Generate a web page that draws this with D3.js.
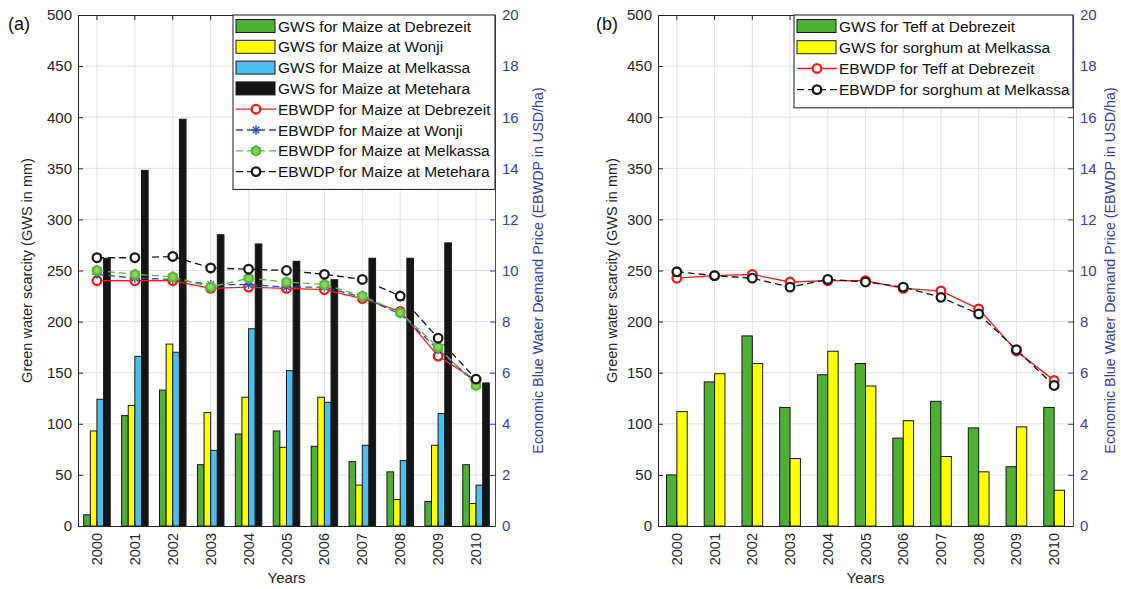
<!DOCTYPE html>
<html>
<head>
<meta charset="utf-8">
<script src="https://cdn.jsdelivr.net/npm/d3@7"></script>
<style>
  html, body { margin: 0; padding: 0; background: #fff; }
  svg { display: block; font-family: "Liberation Sans", Arial, sans-serif; }
</style>
</head>
<body>
<svg id="chart" width="1121" height="589"></svg>
<script>
// ---------- DATA ----------
const years = ["2000","2001","2002","2003","2004","2005","2006","2007","2008","2009","2010"];
const gwsTicks = [0,50,100,150,200,250,300,350,400,450,500];
const ebwdpTicks = [0,2,4,6,8,10,12,14,16,18,20];

// Panel (a) – Maize
const gwsMaizeDebrezeit = [11, 108, 133, 60, 90, 93, 78, 63, 53, 24, 60];
const gwsMaizeWonji     = [93, 118, 178, 111, 126, 77, 126, 40, 26, 79, 22];
const gwsMaizeMelkassa  = [124, 166, 170, 74, 193, 152, 121, 79, 64, 110, 40];
const gwsMaizeMetehara  = [262, 348, 398, 285, 276, 259, 241, 262, 262, 277, 140];
const ebwdpMaizeDebrezeit = [9.6, 9.6, 9.6, 9.3, 9.35, 9.3, 9.25, 8.9, 8.4, 6.65, 5.7];
const ebwdpMaizeWonji     = [9.85, 9.7, 9.65, 9.45, 9.45, 9.35, 9.35, 8.95, 8.3, 6.9, 5.6];
const ebwdpMaizeMelkassa  = [10.0, 9.85, 9.75, 9.35, 9.7, 9.55, 9.45, 9.0, 8.35, 7.0, 5.5];
const ebwdpMaizeMetehara  = [10.5, 10.5, 10.55, 10.1, 10.05, 10.0, 9.85, 9.65, 9.0, 7.35, 5.75];

// Panel (b) – Teff & sorghum
const gwsTeffDebrezeit    = [50, 141, 186, 116, 148, 159, 86, 122, 96, 58, 116];
const gwsSorghumMelkassa  = [112, 149, 159, 66, 171, 137, 103, 68, 53, 97, 35];
const ebwdpTeffDebrezeit   = [9.7, 9.8, 9.85, 9.55, 9.6, 9.6, 9.3, 9.2, 8.5, 6.85, 5.7];
const ebwdpSorghumMelkassa = [9.95, 9.8, 9.7, 9.35, 9.65, 9.55, 9.35, 8.95, 8.3, 6.9, 5.5];

// ---------- STYLES ----------
const C = {
  green: "#4DB032", yellow: "#FFFF00", cyan: "#4DBEEE", black: "#141414",
  red: "#FF1A1A", blue: "#2E48B0", lgreen: "#55BB38", dark: "#262626",
  axisBlue: "#3344A6", grid: "#E3E3E3"
};

const svg = d3.select("#chart");

function marker(g, type, color, x, y) {
  if (type === "circle") {
    g.append("circle").attr("cx", x).attr("cy", y).attr("r", 4.3)
      .attr("fill", "#fff").attr("stroke", color).attr("stroke-width", 2.3);
  } else if (type === "hex") {
    const pts = d3.range(6).map(i => {
      const a = Math.PI / 3 * i + Math.PI / 6;
      return [x + 4.6 * Math.cos(a), y + 4.6 * Math.sin(a)];
    });
    g.append("path").attr("d", "M" + pts.join("L") + "Z")
      .attr("fill", "#8FD060").attr("stroke", color).attr("stroke-width", 2.2);
  } else if (type === "star") {
    for (let i = 0; i < 4; i++) {
      const a = Math.PI / 4 * i;
      g.append("line")
        .attr("x1", x - 4.5 * Math.cos(a)).attr("y1", y - 4.5 * Math.sin(a))
        .attr("x2", x + 4.5 * Math.cos(a)).attr("y2", y + 4.5 * Math.sin(a))
        .attr("stroke", color).attr("stroke-width", 1.4);
    }
  }
}

function drawPanel(p) {
  const g = svg.append("g");
  const x = d3.scaleBand().domain(years).range([p.x0, p.x1]).paddingInner(0).paddingOuter(0);
  const bw = x.bandwidth();
  const xs = d3.scaleBand().domain(p.bars.map(b => b.name))
    .range([bw * (1 - p.groupFrac) / 2, bw * (1 + p.groupFrac) / 2]).padding(0);
  const y = d3.scaleLinear().domain([0, 500]).range([p.y1, p.y0]);
  const y2 = d3.scaleLinear().domain([0, 20]).range([p.y1, p.y0]);
  const cx = d => x(d) + bw / 2;

  // grid
  g.append("g").selectAll("line.vg").data(years).join("line")
    .attr("x1", d => cx(d)).attr("x2", d => cx(d)).attr("y1", p.y0).attr("y2", p.y1)
    .attr("stroke", C.grid).attr("stroke-width", 1);
  g.append("g").selectAll("line.hg").data(gwsTicks.slice(1, -1)).join("line")
    .attr("x1", p.x0).attr("x2", p.x1).attr("y1", d => y(d)).attr("y2", d => y(d))
    .attr("stroke", C.grid).attr("stroke-width", 1);

  // bars
  p.bars.forEach(b => {
    g.append("g").selectAll("rect").data(b.values).join("rect")
      .attr("x", (d, i) => x(years[i]) + xs(b.name))
      .attr("width", xs.bandwidth())
      .attr("y", d => y(d)).attr("height", d => y(0) - y(d))
      .attr("fill", b.color).attr("stroke", "#1a1a1a").attr("stroke-width", 1);
  });

  // lines
  p.lines.forEach(l => {
    const line = d3.line().x((d, i) => cx(years[i])).y(d => y2(d));
    g.append("path").datum(l.values).attr("d", line)
      .attr("fill", "none").attr("stroke", l.color).attr("stroke-width", l.width)
      .attr("stroke-dasharray", l.dash || null);
  });
  p.lines.forEach(l => {
    const mg = g.append("g");
    l.values.forEach((d, i) => marker(mg, l.marker, l.color, cx(years[i]), y2(d)));
  });

  // axes
  const ax = g.append("g").attr("font-size", 14.5);
  const left = ax.append("g").attr("transform", `translate(${p.x0},0)`)
    .call(d3.axisLeft(y).tickValues(gwsTicks).tickSizeInner(-5).tickSizeOuter(0).tickPadding(6));
  left.selectAll("text").attr("fill", C.dark).attr("font-size", 15);
  left.selectAll("line").attr("stroke", C.dark);
  left.select(".domain").attr("stroke", C.dark);

  const right = ax.append("g").attr("transform", `translate(${p.x1},0)`)
    .call(d3.axisRight(y2).tickValues(ebwdpTicks).tickSizeInner(-5).tickSizeOuter(0).tickPadding(7));
  right.selectAll("text").attr("fill", C.axisBlue).attr("font-size", 15);
  right.selectAll("line").attr("stroke", C.axisBlue);
  right.select(".domain").attr("stroke", C.axisBlue);

  const bottom = ax.append("g").attr("transform", `translate(0,${p.y1})`)
    .call(d3.axisBottom(x).tickSizeInner(-5).tickSizeOuter(0).tickPadding(7));
  bottom.selectAll("text").attr("fill", C.dark).attr("font-size", 14.5)
    .attr("transform", "rotate(-90)").attr("text-anchor", "end")
    .attr("x", -7).attr("y", 0).attr("dy", "0.35em");
  bottom.selectAll("line").attr("stroke", C.dark);
  bottom.select(".domain").attr("stroke", C.dark);

  const top = ax.append("g").attr("transform", `translate(0,${p.y0})`)
    .call(d3.axisTop(x).tickSizeInner(-5).tickSizeOuter(0).tickFormat(""));
  top.selectAll("line").attr("stroke", C.dark);
  top.select(".domain").attr("stroke", C.dark);

  // axis titles
  const midY = (p.y0 + p.y1) / 2;
  g.append("text").attr("transform", `translate(${p.yLabelX},${midY}) rotate(-90)`)
    .attr("text-anchor", "middle").attr("dominant-baseline", "central")
    .attr("font-size", 14.5).attr("fill", C.dark).text("Green water scarcity (GWS in mm)");
  g.append("text").attr("transform", `translate(${p.y2LabelX},${midY}) rotate(-90)`)
    .attr("text-anchor", "middle").attr("dominant-baseline", "central")
    .attr("font-size", 14.3).attr("fill", C.axisBlue).text("Economic Blue Water Demand Price (EBWDP in USD/ha)");
  g.append("text").attr("x", (p.x0 + p.x1) / 2).attr("y", 583)
    .attr("text-anchor", "middle").attr("font-size", 15).attr("fill", C.dark).text("Years");
  g.append("text").attr("x", p.tagX).attr("y", 30)
    .attr("font-size", 18).attr("fill", "#111").text(p.tag);

  // legend
  const items = p.bars.map(b => ({ kind: "bar", ...b })).concat(p.lines.map(l => ({ kind: "line", ...l })));
  const lg = g.append("g");
  const lh = items.length * p.legStep + 8;
  lg.append("rect").attr("x", p.legX).attr("y", p.y0).attr("width", p.x1 - p.legX).attr("height", lh)
    .attr("fill", "#fff").attr("stroke", "#1a1a1a").attr("stroke-width", 1);
  items.forEach((it, i) => {
    const cy = p.y0 + 11 + i * p.legStep;
    const sx = p.legX + 3;
    if (it.kind === "bar") {
      lg.append("rect").attr("x", sx).attr("y", cy - 6.5).attr("width", 39).attr("height", 13)
        .attr("fill", it.color).attr("stroke", "#1a1a1a").attr("stroke-width", 1);
    } else {
      lg.append("line").attr("x1", sx).attr("x2", sx + 40).attr("y1", cy).attr("y2", cy)
        .attr("stroke", it.color).attr("stroke-width", it.width).attr("stroke-dasharray", it.dash || null);
      marker(lg, it.marker, it.color, sx + 20, cy);
    }
    lg.append("text").attr("x", sx + 42).attr("y", cy).attr("dominant-baseline", "central")
      .attr("font-size", 15.5).attr("fill", "#111").text(it.name);
  });
}

drawPanel({
  tag: "(a)", tagX: 8,
  x0: 78, x1: 495, y0: 15, y1: 526, groupFrac: 0.7,
  yLabelX: 27, y2LabelX: 538, legX: 233, legStep: 20.8,
  bars: [
    { name: "GWS for Maize at Debrezeit", values: gwsMaizeDebrezeit, color: C.green },
    { name: "GWS for Maize at Wonji", values: gwsMaizeWonji, color: C.yellow },
    { name: "GWS for Maize at Melkassa", values: gwsMaizeMelkassa, color: C.cyan },
    { name: "GWS for Maize at Metehara", values: gwsMaizeMetehara, color: C.black }
  ],
  lines: [
    { name: "EBWDP for Maize at Debrezeit", values: ebwdpMaizeDebrezeit, color: C.red, width: 1.3, marker: "circle" },
    { name: "EBWDP for Maize at Wonji", values: ebwdpMaizeWonji, color: C.blue, width: 1.3, dash: "7,4", marker: "star" },
    { name: "EBWDP for Maize at Melkassa", values: ebwdpMaizeMelkassa, color: C.lgreen, width: 1.3, dash: "7,4", marker: "hex" },
    { name: "EBWDP for Maize at Metehara", values: ebwdpMaizeMetehara, color: "#1a1a1a", width: 1.3, dash: "7,4", marker: "circle" }
  ]
});

drawPanel({
  tag: "(b)", tagX: 596,
  x0: 658, x1: 1073, y0: 15, y1: 526, groupFrac: 0.55,
  yLabelX: 612, y2LabelX: 1110, legX: 794, legStep: 21.2,
  bars: [
    { name: "GWS for Teff at Debrezeit", values: gwsTeffDebrezeit, color: C.green },
    { name: "GWS for sorghum at Melkassa", values: gwsSorghumMelkassa, color: C.yellow }
  ],
  lines: [
    { name: "EBWDP for Teff at Debrezeit", values: ebwdpTeffDebrezeit, color: C.red, width: 1.3, marker: "circle" },
    { name: "EBWDP for sorghum at Melkassa", values: ebwdpSorghumMelkassa, color: "#1a1a1a", width: 1.3, dash: "7,4", marker: "circle" }
  ]
});
</script>
</body>
</html>
